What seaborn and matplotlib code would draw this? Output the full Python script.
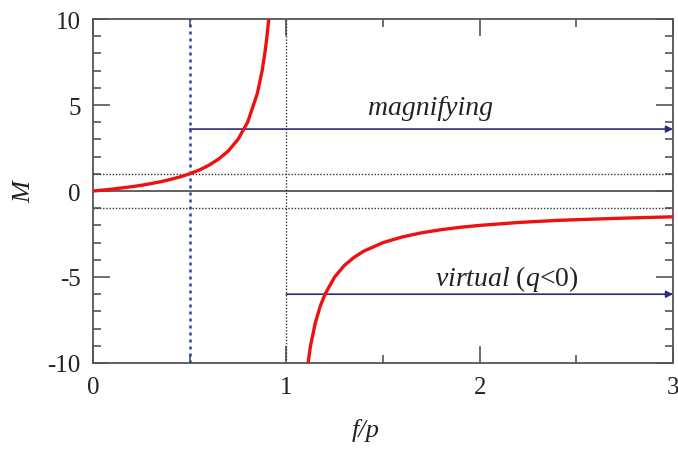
import matplotlib
matplotlib.use("Agg")
import matplotlib.pyplot as plt
import numpy as np
import pandas as pd
import seaborn as sns
from matplotlib.ticker import MultipleLocator

# values
x_left = [0.0, 0.05, 0.1, 0.15, 0.2, 0.25, 0.3, 0.35, 0.4, 0.45, 0.5, 0.55, 0.6,
          0.65, 0.7, 0.75, 0.8, 0.85, 0.875, 0.89, 0.9, 0.91]
m_left = [0.0, 0.05, 0.11, 0.18, 0.25, 0.33, 0.43, 0.54, 0.67, 0.82, 1.0, 1.22, 1.5,
          1.86, 2.33, 3.0, 4.0, 5.67, 7.0, 8.09, 9.0, 10.1]
x_right = [1.1, 1.125, 1.15, 1.175, 1.2, 1.25, 1.3, 1.35, 1.4, 1.5, 1.6, 1.7, 1.8,
           1.9, 2.0, 2.2, 2.4, 2.6, 2.8, 3.0]
m_right = [-11.0, -9.0, -7.67, -6.71, -6.0, -5.0, -4.33, -3.86, -3.5, -3.0, -2.67,
           -2.43, -2.25, -2.11, -2.0, -1.83, -1.71, -1.63, -1.56, -1.5]
arrow_starts = [0.5, 1.0]
arrow_levels = [3.6, -6.0]
labels = ["magnifying", "$\\mathit{virtual}$ ($\\mathit{q}$<0)"]

sns.set_style("ticks")
plt.rcParams["font.family"] = ["Liberation Serif", "DejaVu Serif"]
plt.rcParams["mathtext.fontset"] = "custom"
plt.rcParams["mathtext.it"] = "Liberation Serif:italic"
plt.rcParams["mathtext.rm"] = "Liberation Serif"
plt.rcParams["axes.unicode_minus"] = False

fig = plt.figure(figsize=(6.78, 4.52), dpi=100)
ax = fig.add_axes([93/678, 1 - 364/452, 580/678, 344/452])

df = pd.concat([pd.DataFrame({"x": x_left, "M": m_left, "branch": "a"}),
                pd.DataFrame({"x": x_right, "M": m_right, "branch": "b"})])
sns.lineplot(data=df, x="x", y="M", units="branch", estimator=None,
             color="#ee1111", lw=2.4, ax=ax, zorder=5)

ax.axhline(0, color="#555555", lw=1.3, zorder=2)
ax.axhline(1, color="#333333", lw=1.0, ls=(0, (1, 1.3)), zorder=2)
ax.axhline(-1, color="#333333", lw=1.0, ls=(0, (1, 1.3)), zorder=2)
ax.axvline(1, color="#333333", lw=1.0, ls=(0, (1, 1.3)), zorder=2)
ax.axvline(0.5, color="#2a3fc0", lw=1.8, ls=(0, (1.2, 1.6)), zorder=3)

for xs, yl in zip(arrow_starts, arrow_levels):
    ax.annotate("", xy=(3.0, yl), xytext=(xs, yl),
                arrowprops=dict(arrowstyle="-|>", color="#2a2a80", lw=1.2,
                                mutation_scale=10, shrinkA=0, shrinkB=0),
                zorder=4)

ax.text(1.42, 4.45, labels[0], style="italic", fontsize=20, color="#222222")
ax.text(1.77, -5.45, labels[1], fontsize=20, color="#222222")

ax.set_xlim(0, 3)
ax.set_ylim(-10, 10)
ax.xaxis.set_major_locator(MultipleLocator(1))
ax.xaxis.set_minor_locator(MultipleLocator(0.5))
ax.yaxis.set_major_locator(MultipleLocator(5))
ax.yaxis.set_minor_locator(MultipleLocator(1))
ax.tick_params(which="both", direction="in", top=True, right=True,
               color="#555555", labelsize=18, labelcolor="#222222")
ax.tick_params(which="major", length=12, width=1.2, pad=9)
ax.tick_params(which="minor", length=6, width=1.2)
for s in ax.spines.values():
    s.set_color("#555555")
    s.set_linewidth(1.3)

ax.set_xlabel("f/p", style="italic", fontsize=19, color="#222222")
ax.set_ylabel("M", style="italic", fontsize=19, color="#222222")
ax.xaxis.set_label_coords(0.47, -0.16)
ax.yaxis.set_label_coords(-0.10, 0.5)

fig.savefig("out.png", dpi=100)
